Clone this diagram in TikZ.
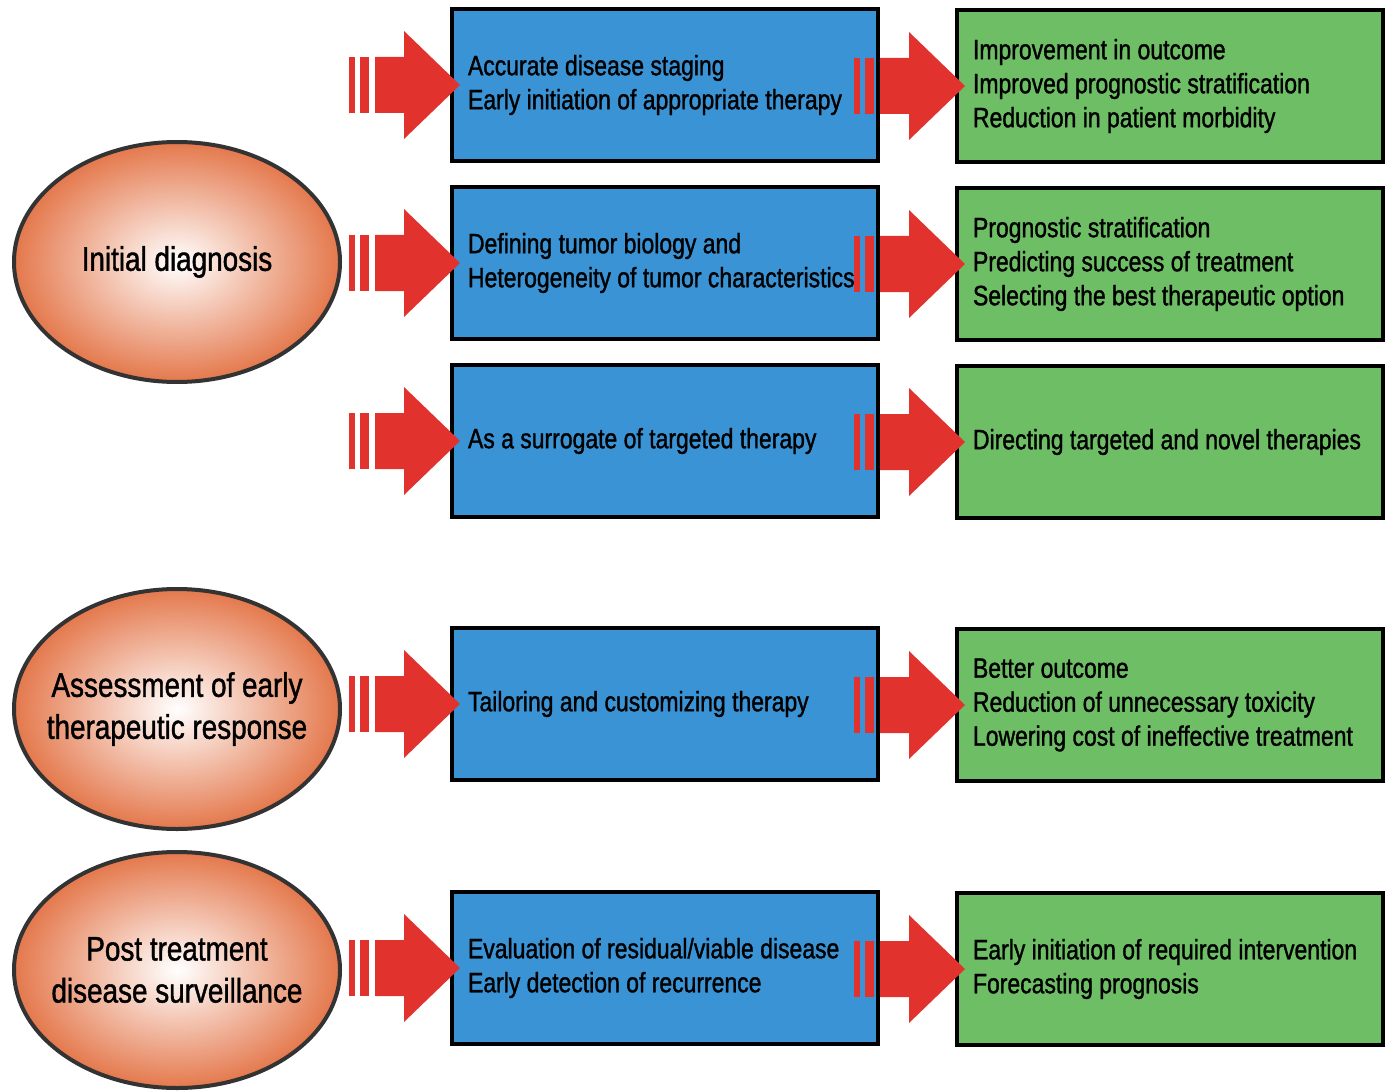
\documentclass[tikz,border=0pt]{standalone}
\usepackage{fontspec}
\setmainfont[FakeStretch=0.82, FakeBold=1.2]{Liberation Sans}
\usetikzlibrary{shapes.geometric}
\hyphenpenalty=10000

\definecolor{boxblue}{RGB}{58,147,213}
\definecolor{boxgreen}{RGB}{110,190,102}
\definecolor{arrowred}{RGB}{226,50,46}
\definecolor{ellorange}{RGB}{228,120,76}

% block arrow, tip placed just inside the box it points to
\newcommand{\blockarrow}[1]{%
  \begin{scope}[shift={(#1)}]
    \fill[arrowred] (10,0) -- (-46,-54) -- (-46,-28) -- (-75,-28) -- (-75,28) -- (-46,28) -- (-46,54) -- cycle;
    \fill[arrowred] (-101,-28) rectangle (-95,28);
    \fill[arrowred] (-90,-28) rectangle (-81,28);
  \end{scope}}

\begin{document}
\begin{tikzpicture}[x=1pt, y=-1pt,
    box/.style={draw=black, line width=4pt, minimum width=426pt, minimum height=152pt,
      text width=394pt, inner xsep=16pt, align=flush left, font=\fontsize{28}{34}\selectfont},
    stage/.style={ellipse, draw=black!80, line width=4pt, minimum width=326pt, minimum height=240pt,
      inner xsep=-30pt, inner ysep=0pt,
      inner color=white, outer color=ellorange, align=center, font=\fontsize{34}{42}\selectfont}]
    \useasboundingbox (0,0) rectangle (1388,1091);

    % 三个阶段
    \node[stage] (diag) at (177,262) {Initial diagnosis};
    \node[stage] (resp) at (177,709) {Assessment of early\\therapeutic response};
    \node[stage, minimum height=236pt] (surv) at (177,970) {Post treatment\\disease surveillance};

    % 蓝色: 作用
    \node[box, fill=boxblue] (b1) at (665,85) {Accurate disease staging\\Early initiation of appropriate therapy};
    \node[box, fill=boxblue] (b2) at (665,263) {Defining tumor biology and\\Heterogeneity of tumor characteristics};
    \node[box, fill=boxblue] (b3) at (665,441) {As a surrogate of targeted therapy};
    \node[box, fill=boxblue] (b4) at (665,704) {Tailoring and customizing therapy};
    \node[box, fill=boxblue] (b5) at (665,968) {Evaluation of residual/viable disease\\Early detection of recurrence};

    % 绿色: 结果
    \node[box, fill=boxgreen] (g1) at (1170,86) {Improvement in outcome\\Improved prognostic stratification\\Reduction in patient morbidity};
    \node[box, fill=boxgreen] (g2) at (1170,264) {Prognostic stratification\\Predicting success of treatment\\Selecting the best therapeutic option};
    \node[box, fill=boxgreen] (g3) at (1170,442) {Directing targeted and novel therapies};
    \node[box, fill=boxgreen] (g4) at (1170,705) {Better outcome\\Reduction of unnecessary toxicity\\Lowering cost of ineffective treatment};
    \node[box, fill=boxgreen] (g5) at (1170,969) {Early initiation of required intervention\\Forecasting prognosis};

    % 红色箭头
    \foreach \r in {1,...,5} {
        \blockarrow{b\r.west}
        \blockarrow{g\r.west}
    }
\end{tikzpicture}
\end{document}
